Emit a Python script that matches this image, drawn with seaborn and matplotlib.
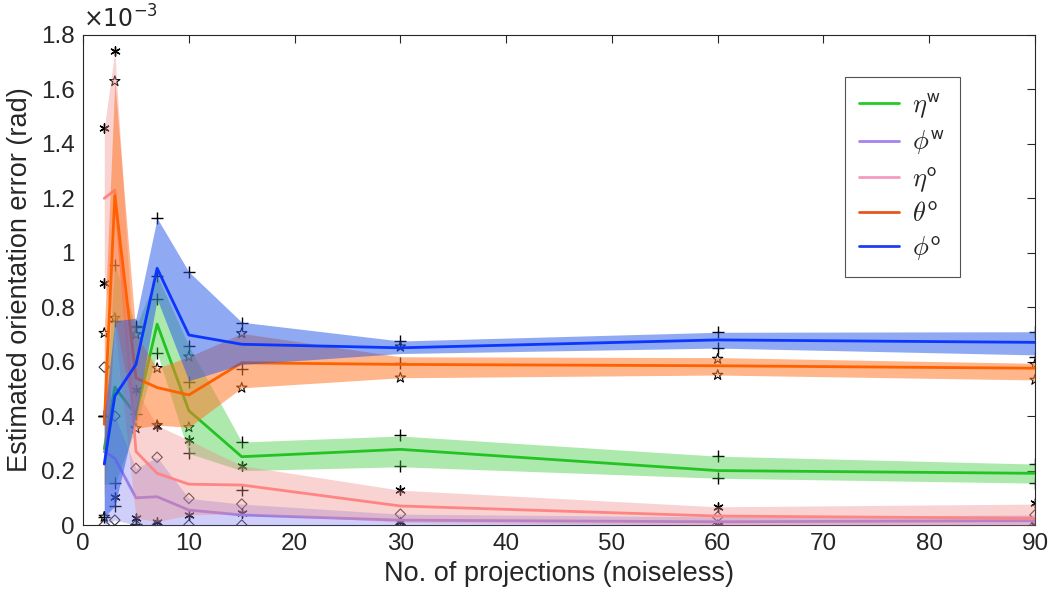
import matplotlib
matplotlib.use("Agg")
import matplotlib.pyplot as plt
import seaborn as sns
from matplotlib.lines import Line2D
from matplotlib.ticker import FuncFormatter, MultipleLocator

# number of projections
x_proj = [2, 3, 5, 7, 10, 15, 30, 60, 90]

# values in units of 1e-3 rad
eta_w_mean = [0.28, 0.507, 0.404, 0.738, 0.42, 0.251, 0.278, 0.20, 0.19]
eta_w_lo = [0.15, 0.15, 0.36, 0.633, 0.263, 0.20, 0.214, 0.172, 0.154]
eta_w_hi = [0.40, 0.955, 0.73, 0.916, 0.658, 0.305, 0.327, 0.253, 0.224]
eta_w_mk_hi = [0.40, 0.955, 0.73, 0.916, 0.658, 0.304, 0.33, 0.253, 0.224]
eta_w_mk_lo = [0.40, 0.154, 0.004, 0.633, 0.263, 0.128, 0.217, 0.172, 0.154]

phi_w_mean = [0.27, 0.245, 0.10, 0.104, 0.055, 0.037, 0.018, 0.012, 0.016]
phi_w_lo = [0.0, 0.018, 0.0, 0.0, 0.0, 0.0, 0.0, 0.0, 0.0]
phi_w_hi = [0.58, 0.40, 0.208, 0.249, 0.098, 0.077, 0.04, 0.03, 0.037]
phi_w_mk_hi = [0.58, 0.40, 0.208, 0.249, 0.098, 0.077, 0.04, 0.03, 0.037]
phi_w_mk_lo = [0.0, 0.018, 0.0, 0.0, 0.0, 0.0, 0.0, 0.0, 0.0]

eta_o_mean = [1.20, 1.23, 0.27, 0.19, 0.15, 0.147, 0.07, 0.033, 0.025]
eta_o_lo = [0.89, 0.72, 0.026, 0.012, 0.037, 0.043, 0.01, 0.0, 0.0]
eta_o_hi = [1.46, 1.74, 0.496, 0.365, 0.312, 0.218, 0.128, 0.067, 0.077]
eta_o_mk_hi = [1.46, 1.74, 0.496, 0.365, 0.312, 0.218, 0.128, 0.067, 0.08]
eta_o_mk_lo = [0.89, 0.104, 0.026, 0.012, 0.037, 0.043, 0.01, 0.0, 0.0]

theta_o_mean = [0.37, 1.21, 0.54, 0.505, 0.478, 0.596, 0.59, 0.585, 0.576]
theta_o_lo = [0.10, 0.76, 0.355, 0.367, 0.359, 0.504, 0.541, 0.551, 0.533]
theta_o_hi = [0.705, 1.63, 0.70, 0.576, 0.618, 0.704, 0.618, 0.615, 0.594]
theta_o_mk_hi = [0.705, 1.63, 0.70, 0.576, 0.618, 0.704, 0.655, 0.61, 0.59]
theta_o_mk_lo = [0.03, 0.76, 0.355, 0.367, 0.359, 0.504, 0.541, 0.551, 0.533]

phi_o_mean = [0.224, 0.474, 0.59, 0.943, 0.698, 0.664, 0.651, 0.68, 0.671]
phi_o_lo = [0.03, 0.07, 0.40, 0.83, 0.53, 0.59, 0.63, 0.65, 0.625]
phi_o_hi = [0.40, 0.75, 0.76, 1.127, 0.93, 0.745, 0.676, 0.708, 0.71]
phi_o_mk_hi = [0.40, 0.75, 0.726, 1.127, 0.93, 0.741, 0.677, 0.708, 0.71]
phi_o_mk_lo = [0.03, 0.071, 0.407, 0.83, 0.527, 0.572, 0.595, 0.649, 0.617]

series = [
    (r"$\eta^{\mathsf{w}}$", eta_w_mean, eta_w_lo, eta_w_hi, eta_w_mk_hi, eta_w_mk_lo),
    (r"$\phi^{\mathsf{w}}$", phi_w_mean, phi_w_lo, phi_w_hi, phi_w_mk_hi, phi_w_mk_lo),
    (r"$\eta^{\mathsf{o}}$", eta_o_mean, eta_o_lo, eta_o_hi, eta_o_mk_hi, eta_o_mk_lo),
    (r"$\theta^{\mathsf{o}}$", theta_o_mean, theta_o_lo, theta_o_hi, theta_o_mk_hi, theta_o_mk_lo),
    (r"$\phi^{\mathsf{o}}$", phi_o_mean, phi_o_lo, phi_o_hi, phi_o_mk_hi, phi_o_mk_lo),
]

# style per series: line colour, fill colour, fill alpha, marker
styles = [
    dict(line="#22c322", fill="#3ccc3c", alpha=0.42, marker="+", leg="#22cc22"),
    dict(line="#9a7ee8", fill="#7878ee", alpha=0.35, marker="D", leg="#a383f0"),
    dict(line="#ff8585", fill="#f08a8a", alpha=0.38, marker=(6, 2, 0), leg="#f59ac0"),
    dict(line="#ff6000", fill="#ff7a2a", alpha=0.55, marker="*", leg="#e8561e"),
    dict(line="#0a36ff", fill="#2a5ae8", alpha=0.52, marker="+", leg="#1e3ef0"),
]

sns.set_theme(style="white")
plt.rcParams["font.family"] = ["Liberation Sans", "DejaVu Sans"]
plt.rcParams["mathtext.fontset"] = "cm"

fig = plt.figure(figsize=(10.52, 5.98), dpi=100)
ax = fig.add_axes([0.079, 0.122, 0.9048, 0.8195])

# markers first, so the shaded bands tint them
for (label, mean, lo, hi, mk_hi, mk_lo), st in zip(series, styles):
    mx = x_proj + x_proj
    my = mk_hi + mk_lo
    if st["marker"] == "+":
        sns.scatterplot(x=mx, y=my, marker="+", color="black", s=70,
                        linewidth=1.0, ax=ax, zorder=1)
    elif st["marker"] == "D":
        sns.scatterplot(x=mx, y=my, marker="D", s=28, facecolor="none",
                        edgecolor="#333333", linewidth=0.8, ax=ax, zorder=1)
    elif st["marker"] == "*":
        sns.scatterplot(x=mx, y=my, marker="*", s=60, facecolor="none",
                        edgecolor="black", linewidth=0.8, ax=ax, zorder=1)
    else:
        sns.scatterplot(x=mx, y=my, marker=st["marker"], color="black", s=45,
                        linewidth=1.0, ax=ax, zorder=1)

handles = []
for i, ((label, mean, lo, hi, mk_hi, mk_lo), st) in enumerate(zip(series, styles)):
    ax.fill_between(x_proj, lo, hi, color=st["fill"], alpha=st["alpha"],
                    linewidth=0, zorder=2 + 2 * i)
    sns.lineplot(x=x_proj, y=mean, color=st["line"], linewidth=2.0, ax=ax,
                 zorder=3 + 2 * i)
    handles.append(Line2D([0], [0], color=st["leg"], linewidth=2.0, label=label))

ax.set_xlim(0, 90)
ax.set_ylim(0, 1.8)
ax.xaxis.set_major_locator(MultipleLocator(10))
ax.yaxis.set_major_locator(MultipleLocator(0.2))
ax.yaxis.set_major_formatter(FuncFormatter(lambda v, p: f"{v:g}"))
ax.tick_params(direction="in", length=6, width=0.8, top=True, right=True,
               labelsize=17.5, colors="#262626", pad=6)
for sp in ax.spines.values():
    sp.set_color("#262626")
    sp.set_linewidth(0.8)

ax.set_xlabel("No. of projections (noiseless)", fontsize=19.5, color="#262626", labelpad=4)
ax.set_ylabel("Estimated orientation error (rad)", fontsize=19.5, color="#262626", labelpad=6)
ax.text(0.0, 1.004, r"$\times10^{-3}$", transform=ax.transAxes, ha="left",
        va="bottom", fontsize=17, color="#262626",
        math_fontfamily="dejavusans")

leg = ax.legend(handles=handles, loc="upper right", bbox_to_anchor=(0.921, 0.914),
                borderaxespad=0, fontsize=19, frameon=True, fancybox=False,
                handlelength=1.5, labelspacing=0.3, borderpad=0.55,
                handletextpad=0.5)
leg.get_frame().set_edgecolor("#262626")
leg.get_frame().set_linewidth(0.8)

fig.savefig("out.png", dpi=100)
